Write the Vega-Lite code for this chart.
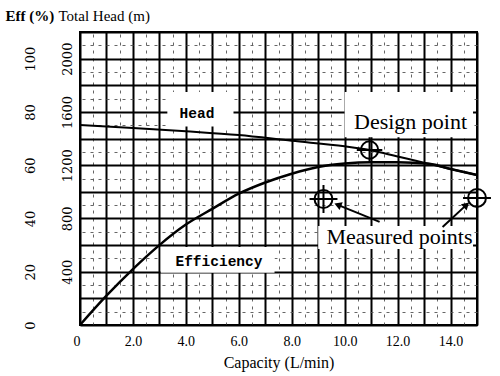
{
  "$schema": "https://vega.github.io/schema/vega-lite/v6.json",
  "width": 397,
  "height": 293,
  "autosize": "none",
  "padding": {"left": 80, "top": 32, "right": 23, "bottom": 51},
  "background": "white",
  "config": {"view": {"stroke": "black", "strokeWidth": 2}, "font": "Liberation Serif"},
  "datasets": {
    "head": [
      {"q": 0, "h": 1502}, {"q": 2, "h": 1480}, {"q": 4, "h": 1455}, {"q": 6, "h": 1426},
      {"q": 8, "h": 1383}, {"q": 10, "h": 1342}, {"q": 10.94, "h": 1314}, {"q": 12, "h": 1265},
      {"q": 13, "h": 1219}, {"q": 14, "h": 1172}, {"q": 15, "h": 1126}
    ],
    "eff": [
      {"q": 0, "e": 0}, {"q": 1, "e": 11}, {"q": 2, "e": 21}, {"q": 3, "e": 30},
      {"q": 4, "e": 37.7}, {"q": 5, "e": 43.6}, {"q": 6, "e": 49.3}, {"q": 7, "e": 53.5},
      {"q": 8, "e": 56.8}, {"q": 9, "e": 59.3}, {"q": 10, "e": 60.6}, {"q": 11, "e": 61.1},
      {"q": 12, "e": 61.1}, {"q": 13.2, "e": 60.5}, {"q": 14, "e": 58.6}, {"q": 15, "e": 56.3}
    ],
    "measured": [{"q": 9.2, "e": 47.3}, {"q": 15.0, "e": 47.7}],
    "design": [{"q": 10.94, "h": 1314}],
    "boxes": [
      {"q": 3.3, "q2": 5.8, "e": 74.5, "e2": 87.5},
      {"q": 10.0, "q2": 14.85, "e": 70.5, "e2": 87.5},
      {"q": 3.05, "q2": 7.35, "e": 19.6, "e2": 29.3},
      {"q": 9.0, "q2": 14.85, "e": 28.5, "e2": 37.2}
    ],
    "arrows": [
      {"id": "a", "q": 11.32, "e": 38.7, "q2": 9.74, "e2": 45.1},
      {"id": "b", "q": 13.7, "e": 36.8, "q2": 14.6, "e2": 45.1}
    ],
    "monoLabels": [
      {"text": "Head", "q": 4.42, "e": 79.2},
      {"text": "Efficiency", "q": 5.25, "e": 23.6}
    ],
    "serifLabels": [
      {"text": "Design point", "q": 12.49, "e": 76.2},
      {"text": "Measured points", "q": 12.07, "e": 33.0}
    ]
  },
  "layer": [
    {
      "data": {"name": "boxes"},
      "mark": {"type": "rect", "fill": "white", "stroke": null},
      "encoding": {
        "x": {"field": "q", "type": "quantitative", "scale": {"domain": [0, 15], "nice": false},
          "axis": {"orient": "top", "values": [0.5,1.5,2.5,3.5,4.5,5.5,6.5,7.5,8.5,9.5,10.5,11.5,12.5,13.5,14.5],
            "labels": false, "ticks": false, "domain": false, "title": null,
            "grid": true, "gridDash": [3, 5], "gridColor": "#555", "gridWidth": 1, "gridOpacity": 0.9}},
        "x2": {"field": "q2"},
        "y": {"field": "e", "type": "quantitative", "scale": {"domain": [0, 110], "nice": false},
          "axis": {"orient": "right", "values": [5,15,25,35,45,55,65,75,85,95,105],
            "labels": false, "ticks": false, "domain": false, "title": null,
            "grid": true, "gridDash": [3, 5], "gridColor": "#555", "gridWidth": 1, "gridOpacity": 0.9}},
        "y2": {"field": "e2"}
      }
    },
    {
      "data": {"name": "head"},
      "mark": {"type": "line", "color": "black", "strokeWidth": 2, "interpolate": "monotone"},
      "encoding": {
        "x": {"field": "q", "type": "quantitative", "scale": {"domain": [0, 15], "nice": false},
          "axis": {"orient": "bottom", "values": [0,1,2,3,4,5,6,7,8,9,10,11,12,13,14,15],
            "labelExpr": "datum.value % 2 === 0 && datum.value < 15 ? (datum.value === 0 ? '0' : format(datum.value, '.1f')) : ''",
            "labelAlign": {"condition": {"test": "datum.value === 0", "value": "right"}, "value": "center"},
            "ticks": false, "domain": false, "grid": true, "gridColor": "black", "gridWidth": 2, "gridOpacity": 1,
            "labelFont": "Liberation Serif", "labelFontSize": 14, "labelColor": "black", "labelPadding": 9,
            "title": "Capacity (L/min)", "titleFont": "Liberation Serif", "titleFontSize": 16,
            "titleFontWeight": "normal", "titleColor": "black", "titlePadding": 6}},
        "y": {"field": "h", "type": "quantitative", "scale": {"domain": [0, 2200], "nice": false},
          "axis": {"orient": "left", "values": [0,200,400,600,800,1000,1200,1400,1600,1800,2000,2200],
            "format": "d",
            "labelExpr": "datum.value % 400 === 0 && datum.value > 0 && datum.value < 2200 ? datum.label : ''",
            "ticks": false, "domain": false, "grid": true, "gridColor": "black", "gridWidth": 2, "gridOpacity": 1,
            "labelAngle": -90, "labelAlign": "center", "labelBaseline": "bottom", "labelPadding": 6,
            "labelFont": "DejaVu Serif", "labelFontSize": 13, "labelColor": "black",
            "title": "Total Head (m)", "titleAngle": 0, "titleAlign": "left", "titleBaseline": "middle",
            "titleX": -22, "titleY": -17, "titleFont": "Liberation Serif", "titleFontSize": 15,
            "titleFontWeight": "normal", "titleColor": "black"}}
      }
    },
    {
      "data": {"name": "eff"},
      "mark": {"type": "line", "color": "black", "strokeWidth": 2.5, "interpolate": "monotone"},
      "encoding": {
        "x": {"field": "q", "type": "quantitative", "scale": {"domain": [0, 15], "nice": false}, "axis": null},
        "y": {"field": "e", "type": "quantitative", "scale": {"domain": [0, 110], "nice": false},
          "axis": {"orient": "left", "offset": 41, "values": [0,20,40,60,80,100],
            "ticks": false, "domain": false, "grid": false,
            "labelAngle": -90, "labelAlign": "center", "labelBaseline": "bottom", "labelPadding": 2,
            "labelFont": "DejaVu Serif", "labelFontSize": 13, "labelColor": "black",
            "title": "Eff (%)", "titleAngle": 0, "titleAlign": "left", "titleBaseline": "middle",
            "titleX": -34, "titleY": -17, "titleFont": "Liberation Serif", "titleFontSize": 15,
            "titleFontWeight": "bold", "titleColor": "black"}}
      }
    },
    {
      "data": {"name": "arrows"},
      "mark": {"type": "rule", "color": "black", "strokeWidth": 2},
      "encoding": {
        "x": {"field": "q", "type": "quantitative", "scale": {"domain": [0, 15], "nice": false}, "axis": null},
        "y": {"field": "e", "type": "quantitative", "scale": {"domain": [0, 110], "nice": false}, "axis": null},
        "x2": {"field": "q2"},
        "y2": {"field": "e2"}
      }
    },
    {
      "data": {"name": "arrows"},
      "transform": [{"filter": "datum.id === 'a'"}],
      "mark": {"type": "point", "shape": "triangle-up", "filled": true, "color": "black", "size": 70, "angle": 292, "opacity": 1},
      "encoding": {
        "x": {"field": "q2", "type": "quantitative", "scale": {"domain": [0, 15], "nice": false}, "axis": null},
        "y": {"field": "e2", "type": "quantitative", "scale": {"domain": [0, 110], "nice": false}, "axis": null}
      }
    },
    {
      "data": {"name": "arrows"},
      "transform": [{"filter": "datum.id === 'b'"}],
      "mark": {"type": "point", "shape": "triangle-up", "filled": true, "color": "black", "size": 70, "angle": 47, "opacity": 1},
      "encoding": {
        "x": {"field": "q2", "type": "quantitative", "scale": {"domain": [0, 15], "nice": false}, "axis": null},
        "y": {"field": "e2", "type": "quantitative", "scale": {"domain": [0, 110], "nice": false}, "axis": null}
      }
    },
    {
      "data": {"name": "measured"},
      "mark": {"type": "point", "shape": "circle", "filled": false, "color": "black", "strokeWidth": 2, "size": 320, "opacity": 1},
      "encoding": {
        "x": {"field": "q", "type": "quantitative", "scale": {"domain": [0, 15], "nice": false}, "axis": null},
        "y": {"field": "e", "type": "quantitative", "scale": {"domain": [0, 110], "nice": false}, "axis": null}
      }
    },
    {
      "data": {"name": "measured"},
      "mark": {"type": "point", "shape": "M-1,0H1M0,-1V1", "filled": false, "color": "black", "strokeWidth": 2, "size": 780, "opacity": 1},
      "encoding": {
        "x": {"field": "q", "type": "quantitative", "scale": {"domain": [0, 15], "nice": false}, "axis": null},
        "y": {"field": "e", "type": "quantitative", "scale": {"domain": [0, 110], "nice": false}, "axis": null}
      }
    },
    {
      "data": {"name": "design"},
      "mark": {"type": "point", "shape": "circle", "filled": false, "color": "black", "strokeWidth": 2, "size": 300, "opacity": 1},
      "encoding": {
        "x": {"field": "q", "type": "quantitative", "scale": {"domain": [0, 15], "nice": false}, "axis": null},
        "y": {"field": "h", "type": "quantitative", "scale": {"domain": [0, 2200], "nice": false}, "axis": null}
      }
    },
    {
      "data": {"name": "design"},
      "mark": {"type": "point", "shape": "M-1,0H1M0,-1V1", "filled": false, "color": "black", "strokeWidth": 2, "size": 650, "opacity": 1},
      "encoding": {
        "x": {"field": "q", "type": "quantitative", "scale": {"domain": [0, 15], "nice": false}, "axis": null},
        "y": {"field": "h", "type": "quantitative", "scale": {"domain": [0, 2200], "nice": false}, "axis": null}
      }
    },
    {
      "data": {"name": "monoLabels"},
      "mark": {"type": "text", "font": "Liberation Mono", "fontWeight": "bold", "fontSize": 14.5, "color": "black", "align": "center", "baseline": "middle"},
      "encoding": {
        "x": {"field": "q", "type": "quantitative", "scale": {"domain": [0, 15], "nice": false}, "axis": null},
        "y": {"field": "e", "type": "quantitative", "scale": {"domain": [0, 110], "nice": false}, "axis": null},
        "text": {"field": "text"}
      }
    },
    {
      "data": {"name": "serifLabels"},
      "mark": {"type": "text", "font": "Liberation Serif", "fontSize": 22, "color": "black", "align": "center", "baseline": "middle"},
      "encoding": {
        "x": {"field": "q", "type": "quantitative", "scale": {"domain": [0, 15], "nice": false}, "axis": null},
        "y": {"field": "e", "type": "quantitative", "scale": {"domain": [0, 110], "nice": false}, "axis": null},
        "text": {"field": "text"}
      }
    }
  ],
  "resolve": {"scale": {"y": "independent"}, "axis": {"x": "independent", "y": "independent"}}
}
